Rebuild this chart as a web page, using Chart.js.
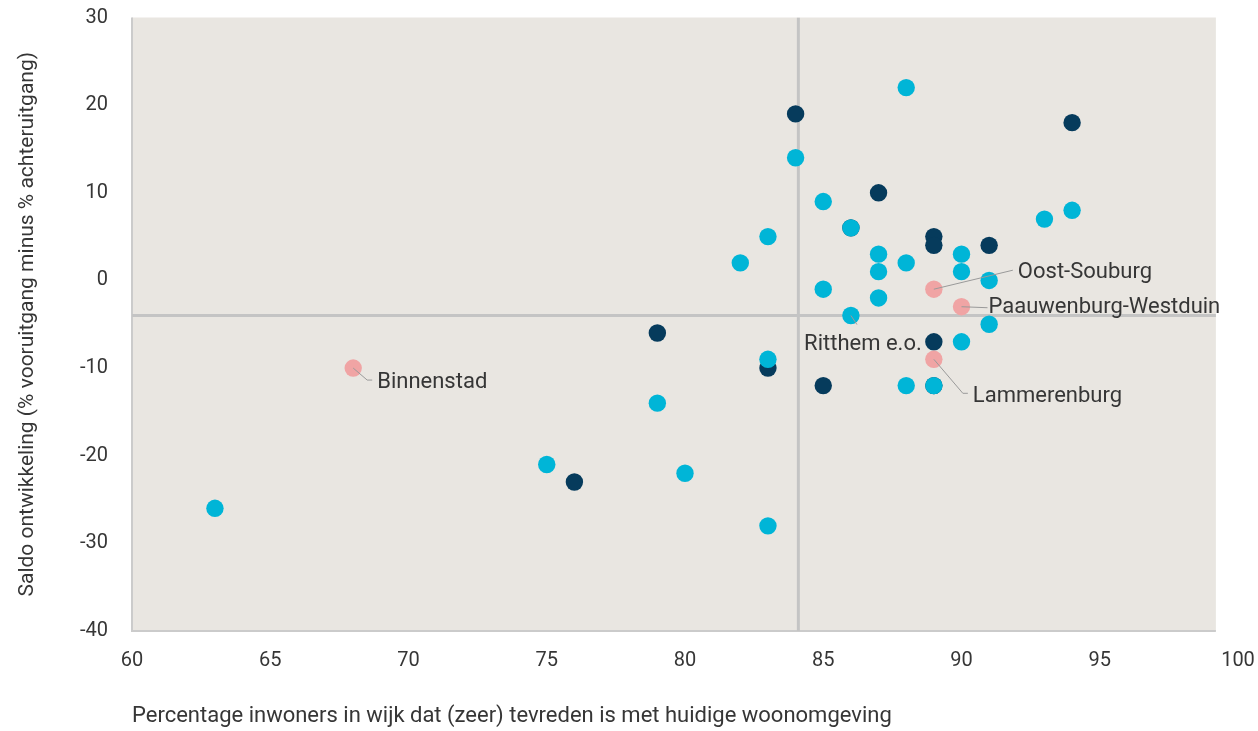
<!DOCTYPE html>
<html>
<head>
<meta charset="utf-8">
<script src="https://cdn.jsdelivr.net/npm/chart.js@4.4.1/dist/chart.umd.min.js"></script>
<style>
    body { margin: 0; background: #ffffff; }
    #wrap { width: 1258px; height: 731px; position: relative; }
</style>
</head>
<body>
<div id="wrap"><canvas id="wijkChart"></canvas></div>
<script>
// x = % tevreden met woonomgeving, y = saldo ontwikkeling
const navyX = [84, 87, 86, 89, 89, 91, 94, 79, 89, 83, 85, 89, 76];
const navyY = [19, 10, 6, 5, 4, 4, 18, -6, -7, -10, -12, -12, -23];

const cyanX = [88, 84, 85, 86, 83, 82, 90, 87, 88, 87, 90, 91, 85, 87, 86, 91, 90, 83, 88, 89, 79, 75, 80, 83, 63, 94, 93];
const cyanY = [22, 14, 9, 6, 5, 2, 3, 3, 2, 1, 1, 0, -1, -2, -4, -5, -7, -9, -12, -12, -14, -21, -22, -28, -26, 8, 7];

const pinkX = [68, 89, 90, 89];
const pinkY = [-10, -1, -3, -9];

// named wijken (labels drawn next to their point)
const annNames = ['Binnenstad', 'Oost-Souburg', 'Paauwenburg-Westduin', 'Lammerenburg', 'Ritthem e.o.'];
const annX = [68, 89, 90, 89, 86];
const annY = [-10, -1, -3, -9, -4];

// averages (reference lines)
const avgX = 84.1;
const avgY = -4;

const xTicksMin = 60, xTicksMax = 100, yTicksMin = -40, yTicksMax = 30;
const boxRightValue = 99.2;   // grey plot box stops a little before 100

// pixel offsets for label leader lines and text, per annotation
const annLayout = [
    { leader: [[14, 12], [19, 12]], text: [24, 14], align: 'left' },
    { leader: [[79, -19]], text: [84, -17], align: 'left' },
    { leader: [[26, 1]], text: [27, 1], align: 'left' },
    { leader: [[29, 34], [34, 34]], text: [39, 37], align: 'left' },
    { leader: [[6, 9]], text: [12, 29], align: 'center' }
];

const FONT = 'Roboto, "Noto Sans", sans-serif';
const TEXT_COLOR = '#363636';

function toPoints(xs, ys) {
    return xs.map((x, i) => ({ x: x, y: ys[i] }));
}

const plotBox = {
    id: 'plotBox',
    beforeDraw(chart) {
        const { ctx, chartArea, scales } = chart;
        const right = scales.x.getPixelForValue(boxRightValue);
        ctx.save();
        ctx.fillStyle = '#e9e6e1';
        ctx.fillRect(chartArea.left, chartArea.top, right - chartArea.left, chartArea.bottom - chartArea.top);
        ctx.strokeStyle = '#cbcbcb';
        ctx.lineWidth = 2;
        ctx.beginPath();
        ctx.moveTo(chartArea.left, chartArea.top);
        ctx.lineTo(chartArea.left, chartArea.bottom);
        ctx.lineTo(right, chartArea.bottom);
        ctx.stroke();
        ctx.restore();
    }
};

const pointLabels = {
    id: 'pointLabels',
    afterDatasetsDraw(chart) {
        const { ctx, scales } = chart;
        ctx.save();
        annNames.forEach((name, i) => {
            const px = scales.x.getPixelForValue(annX[i]);
            const py = scales.y.getPixelForValue(annY[i]);
            const lay = annLayout[i];
            ctx.strokeStyle = '#9a9a9a';
            ctx.lineWidth = 1;
            ctx.beginPath();
            ctx.moveTo(px, py);
            lay.leader.forEach(p => ctx.lineTo(px + p[0], py + p[1]));
            ctx.stroke();
            ctx.fillStyle = TEXT_COLOR;
            ctx.font = '22px ' + FONT;
            ctx.textAlign = lay.align;
            ctx.textBaseline = 'middle';
            ctx.fillText(name, px + lay.text[0], py + lay.text[1]);
        });
        ctx.restore();
    }
};

const ctx = document.getElementById('wijkChart').getContext('2d');
new Chart(ctx, {
    type: 'scatter',
    data: {
        datasets: [
            {
                data: toPoints(pinkX, pinkY),
                backgroundColor: '#f0a4a4',
                pointRadius: 8.7,
                pointBorderWidth: 0,
                order: 1
            },
            {
                data: toPoints(cyanX, cyanY),
                backgroundColor: '#00b5d7',
                pointRadius: 8.7,
                pointBorderWidth: 0,
                order: 2
            },
            {
                data: toPoints(navyX, navyY),
                backgroundColor: '#063b5c',
                pointRadius: 8.7,
                pointBorderWidth: 0,
                order: 3
            },
            {
                data: [{ x: avgX, y: yTicksMin }, { x: avgX, y: yTicksMax }],
                showLine: true,
                borderColor: '#c4c4c4',
                borderWidth: 3,
                pointRadius: 0,
                order: 10
            },
            {
                data: [{ x: xTicksMin, y: avgY }, { x: boxRightValue, y: avgY }],
                showLine: true,
                borderColor: '#c4c4c4',
                borderWidth: 3,
                pointRadius: 0,
                order: 10
            }
        ]
    },
    options: {
        responsive: true,
        maintainAspectRatio: false,
        animation: false,
        layout: { padding: 0 },
        scales: {
            x: {
                type: 'linear',
                min: xTicksMin,
                max: xTicksMax,
                grid: { display: false, drawTicks: false },
                border: { display: false },
                ticks: { stepSize: 5, padding: 18, color: TEXT_COLOR, font: { family: FONT, size: 20 } },
                title: {
                    display: true,
                    text: 'Percentage inwoners in wijk dat (zeer) tevreden is met huidige woonomgeving',
                    align: 'start',
                    color: TEXT_COLOR,
                    font: { family: FONT, size: 22 },
                    padding: { top: 0, bottom: 1 }
                },
                afterFit: (scale) => {
                    scale.height = 100;
                    scale.paddingLeft = 0;
                    scale.paddingRight = 20;
                }
            },
            y: {
                type: 'linear',
                min: yTicksMin,
                max: yTicksMax,
                grid: { display: false, drawTicks: false },
                border: { display: false },
                ticks: { stepSize: 10, padding: 24, color: TEXT_COLOR, font: { family: FONT, size: 20 } },
                title: {
                    display: true,
                    text: 'Saldo ontwikkeling (% vooruitgang minus % achteruitgang)',
                    color: TEXT_COLOR,
                    font: { family: FONT, size: 21 },
                    padding: { top: 15, bottom: 0 }
                },
                afterFit: (scale) => {
                    scale.width = 132;
                    scale.paddingTop = 17.5;
                    scale.paddingBottom = 0;
                }
            }
        },
        plugins: {
            legend: { display: false },
            tooltip: { enabled: false }
        }
    },
    plugins: [plotBox, pointLabels]
});
</script>
</body>
</html>
